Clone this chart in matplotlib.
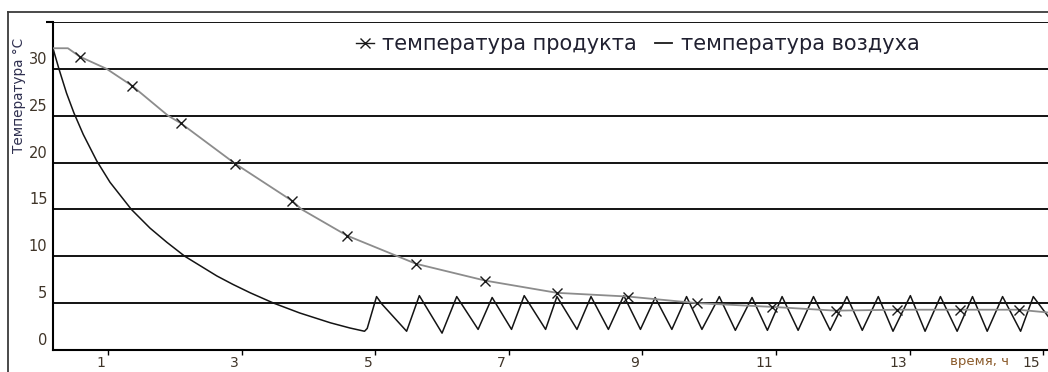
import matplotlib
matplotlib.use("Agg")
import matplotlib.pyplot as plt
import matplotlib.transforms as mtransforms
from matplotlib.lines import Line2D

# Air temperature: cool-down, then thermostat cycling (hours, °C)
air_time = [0.18, 0.27, 0.38, 0.49, 0.63, 0.83, 1.03, 1.35, 1.63, 1.88, 2.15,
            2.63, 2.87, 3.13, 3.48, 3.87, 4.33, 4.62, 4.84,
            4.88, 5.02, 5.10, 5.47, 5.66, 6.00, 6.22, 6.54, 6.75, 7.04, 7.23, 7.55,
            7.72, 8.02, 8.23, 8.49, 8.72, 8.97, 9.19, 9.44, 9.66, 9.89, 10.15, 10.39,
            10.64, 10.87, 11.09, 11.33, 11.56, 11.81, 12.06, 12.29, 12.53, 12.75,
            13.01, 13.23, 13.46, 13.71, 13.94, 14.16, 14.39, 14.66, 14.85, 15.07]
air_temp = [32.1, 29.9, 27.4, 25.3, 23.0, 20.2, 17.9, 15.0, 13.0, 11.5, 10.0,
            7.9, 7.0, 6.1, 5.0, 3.95, 2.9, 2.35, 2.0,
            2.3, 5.7, 4.9, 2.0, 5.8, 1.8, 5.7, 2.2, 5.6, 2.2, 5.8, 2.2,
            5.7, 2.2, 5.7, 2.2, 5.8, 2.2, 5.6, 2.2, 5.7, 2.2, 5.7, 2.1,
            5.6, 2.1, 5.7, 2.1, 5.7, 2.1, 5.7, 2.1, 5.7, 2.0,
            5.8, 2.0, 5.7, 2.0, 5.7, 2.0, 5.7, 2.0, 5.7, 3.6]

# Product temperature curve (hours, °C)
product_time = [0.18, 0.40, 0.58, 0.98, 1.36, 1.90, 2.09, 2.90, 3.76, 3.90, 4.58,
                5.61, 6.65, 7.72, 8.79, 9.82, 10.94, 11.89, 12.81, 13.76, 14.63, 15.07]
product_temp = [32.2, 32.2, 31.3, 30.0, 28.2, 25.0, 24.2, 19.9, 15.9, 15.0, 12.2,
                9.2, 7.4, 6.1, 5.7, 5.0, 4.6, 4.2, 4.3, 4.3, 4.3, 4.0]
# Measured product samples (marked with crosses)
sample_time = [0.58, 1.36, 2.09, 2.90, 3.76, 4.58, 5.61, 6.65, 7.72, 8.79,
               9.82, 10.94, 11.89, 12.81, 13.76, 14.63]
sample_temp = [31.3, 28.2, 24.2, 19.9, 15.9, 12.2, 9.2, 7.4, 6.1, 5.7,
               5.0, 4.6, 4.2, 4.3, 4.3, 4.3]

y_ticks = [0, 5, 10, 15, 20, 25, 30]
y_tick_labels = ["0", "5", "10", "15", "20", "25", "30"]
x_ticks = [1, 3, 5, 7, 9, 11, 13, 15]
x_tick_labels = ["1", "3", "5", "7", "9", "11", "13", "15"]

legend_labels = ["температура продукта", "температура воздуха"]
y_label = "Температура °C"
x_label = "время, ч"

W, H = 1048, 372
fig = plt.figure(figsize=(W / 100, H / 100), dpi=100)
plt.rcParams["font.family"] = ["DejaVu Sans"]

ax = fig.add_axes([53 / W, 1 - 350 / H, (W - 53) / W, (350 - 22) / H])
ax.set_xlim(0.177, 15.07)
ax.set_ylim(0, 35)

label_color = "#3f3428"

# horizontal grid
for y in range(5, 40, 5):
    ax.axhline(y, color="black", lw=1.3, zorder=1)

air_line, = ax.plot(air_time, air_temp, color="#141414", lw=1.1, zorder=3)
prod_line, = ax.plot(product_time, product_temp, color="#8c8c8c", lw=1.3, zorder=4)
ax.plot(sample_time, sample_temp, ls="none", marker="x", ms=7, mew=1.0,
        color="#1a1a1a", zorder=5)

for side in ("top", "right"):
    ax.spines[side].set_visible(False)
ax.spines["left"].set_linewidth(1.5)
ax.spines["bottom"].set_linewidth(1.5)

ax.set_yticks(y_ticks)
ax.set_yticklabels(y_tick_labels, fontsize=10.5, color=label_color)
ax.set_yticks([0, 35], minor=True)
ax.tick_params(axis="y", which="major", length=0, pad=4)
ax.tick_params(axis="y", which="minor", length=5, width=1.5, color="black")
for lab in ax.get_yticklabels():
    lab.set_transform(lab.get_transform() +
                      mtransforms.ScaledTranslation(0, 11 / 100, fig.dpi_scale_trans))

ax.set_xticks(x_ticks)
ax.set_xticklabels(x_tick_labels, fontsize=10, color=label_color)
ax.tick_params(axis="x", which="major", length=3.5, width=1.0, pad=0.5, color="black")
for lab in ax.get_xticklabels():
    lab.set_horizontalalignment("right")
    lab.set_transform(lab.get_transform() +
                      mtransforms.ScaledTranslation(-3 / 100, 0, fig.dpi_scale_trans))

fig.text(19 / W, 1 - 95 / H, y_label, rotation=90, ha="center", va="center",
         fontsize=9.8, color="#2f3050")
fig.text(950 / W, 1 - 361 / H, x_label, ha="left", va="center",
         fontsize=9.5, color="#8a5a2a")

# outer frame (left and top edges)
fig.add_artist(Line2D([8 / W, 8 / W], [0, 1 - 12 / H], transform=fig.transFigure,
                      color="#3a3a3a", lw=1.3))
fig.add_artist(Line2D([8 / W, 1], [1 - 12 / H, 1 - 12 / H], transform=fig.transFigure,
                      color="#3a3a3a", lw=1.3))

h_prod = Line2D([], [], color="#1a1a1a", lw=1.0, marker="x", ms=7, mew=1.0)
h_air = Line2D([], [], color="#1a1a1a", lw=1.3)
leg = fig.legend([h_prod, h_air], legend_labels, ncol=2, frameon=False,
                 loc="center left", bbox_to_anchor=(356 / W, 1 - 44 / H),
                 fontsize=15, handlelength=0.85, handletextpad=0.4,
                 columnspacing=0.85, borderpad=0, borderaxespad=0)
for t in leg.get_texts():
    t.set_color("#202030")

fig.savefig("out.png", dpi=100)
